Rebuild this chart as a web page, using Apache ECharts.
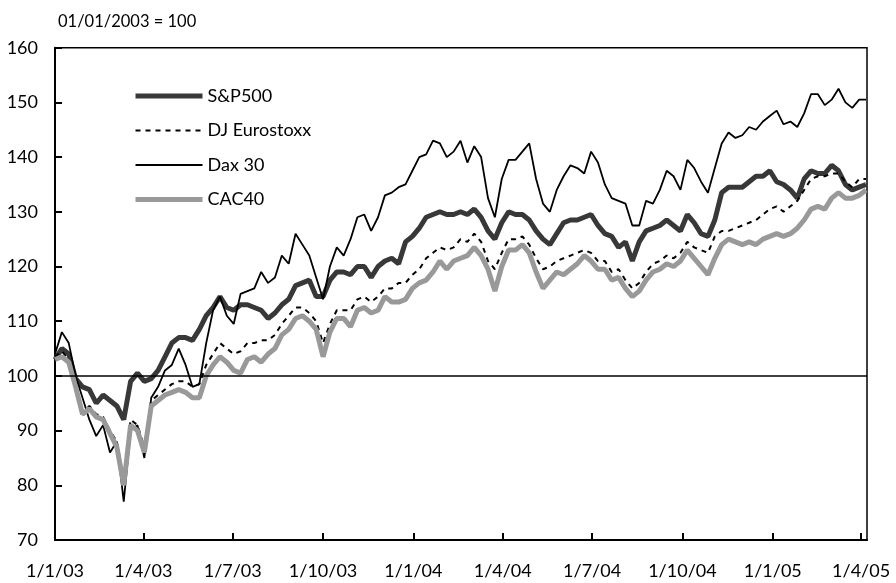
<!DOCTYPE html>
<html>
<head>
<meta charset="utf-8">
<script src="https://cdn.jsdelivr.net/npm/echarts@6/dist/echarts.min.js"></script>
<style>
html,body{margin:0;padding:0;background:#fff;}
#chart{width:896px;height:583px;}
</style>
</head>
<body>
<div id="chart"></div>
<script>
// Weekly samples starting 1 Jan 2003 (index i = week i)
const seriesNames = ['S&P500', 'DJ Eurostoxx', 'Dax 30', 'CAC40'];
const tickDates = ['2003-01-01','2003-04-01','2003-07-01','2003-10-01','2004-01-01','2004-04-01','2004-07-01','2004-10-01','2005-01-01','2005-04-01'];
const tickLabels = ['1/1/03','1/4/03','1/7/03','1/10/03','1/1/04','1/4/04','1/7/04','1/10/04','1/1/05','1/4/05'];
const yTicks = [70, 80, 90, 100, 110, 120, 130, 140, 150, 160];

const sp500 = [103,105,104,99.5,98,97.5,95,96.5,95.5,94.5,92,99,100.5,99,99.5,101,103.5,106,107,107,106.5,108.5,111,112.5,114.5,112.5,112,113,113,112.5,112,110.5,111.5,113,114,116.5,117,117.5,114.5,114.5,117.5,119,119,118.5,120,120,118,120,121,121.5,120.5,124.5,125.5,127,129,129.5,130,129.5,129.5,130,129.5,130.5,129,126.5,125,128,130,129.5,129.5,128.5,126.5,125,124,126,128,128.5,128.5,129,129.5,127.5,126,125.5,123.5,124.5,121,124.5,126.5,127,127.5,128.5,127.5,126.5,129.5,128,126,125.5,128.5,133.5,134.5,134.5,134.5,135.5,136.5,136.5,137.5,135.5,135,134,132.5,136,137.5,137,137,138.5,137.5,135,134,134.5,135];

const eurostoxx = [103.5,104.5,103,98.5,93.5,94.5,93,92.5,90,88,81,92,91,87,95.5,96.5,97.5,98.5,99,99,98,98.5,102,104,106,105,104,104.5,106,106,106.5,106.5,107.5,109.5,111,112.5,112.5,111.5,110,106,109.5,112,112,112,114,114.5,113.5,114.5,116,116,117,117,118.5,119.5,121.5,122.5,123.5,123,123.5,125,124.5,126,124.5,121,119.5,122.5,125,125,125.5,124,121.5,119.5,120,121,121.5,122,122.5,123,122.5,121,121,119,119.5,117.5,116,117,119,120.5,121,122,121.5,122.5,124.5,123.5,123,122.5,125.5,126.5,126.5,127,127.5,128,128.5,129.5,130.5,131,130,131,132,134,136,136.5,136.5,137,137,135.5,134.5,136,136];

const dax30 = [104,108,106,100,96,92,89,91,86,88,77,90,91,85,96,98,101,102,105,102,98,98.5,106,112,114.5,111,109.5,115,115.5,116,119,117,118,122,120.5,126,124,122,118,114,120,123.5,122,125,129,129.5,126.5,129,133,133.5,134.5,135,137.5,140,140.5,143,142.5,140,141,143,139,142,140,132.5,129,136,139.5,139.5,141,142.5,136,131.5,130,134,136.5,138.5,138,137,141,139,135,132.5,132,131.5,127.5,127.5,132,131.5,134,137.5,136.5,134,139.5,138,135.5,133.5,138,142.5,144.5,143.5,144,145.5,145,146.5,147.5,148.5,146,146.5,145.5,148,151.5,151.5,149.5,150.5,152.5,150,149,150.5,150.5];

const cac40 = [103,103.5,102.5,98,93,94,92.5,92,89.5,87,80,91,90,86,94.5,95.5,96.5,97,97.5,97,96,96,100,102,103.5,102.5,101,100.5,103,103.5,102.5,104,105,107.5,108.5,110.5,111,110,108.5,103.5,108,110.5,110.5,109,112,112.5,111.5,112,114.5,113.5,113.5,114,116,117,117.5,119,121,119.5,121,121.5,122,123.5,122,119.5,115.5,120,123,123,124,122.5,119,116,117.5,119,118.5,119.5,120.5,122,121,119.5,119.5,117.5,118,116,114.5,115.5,117.5,119,119.5,120.5,120,121,123,121.5,120,118.5,121.5,124,125,124.5,124,124.5,124,125,125.5,126,125.5,126,127,128.5,130.5,131,130.5,132.5,133.5,132.5,132.5,133,134];

const baseLine = 100;

// x axis measured in days since 1 Jan 2003; samples are weekly
const DAY = 86400000;
function dayNum(s) { const p = s.split('-'); return Math.round((Date.UTC(+p[0], +p[1] - 1, +p[2]) - Date.UTC(2003, 0, 1)) / DAY); }
const days = sp500.map((_, i) => 7 * i);
const tickDays = tickDates.map(dayNum);
const xMax = dayNum('2005-04-07');

const FONT = 'Lato, "Open Sans", sans-serif';

const styles = [
  {color: '#383838', width: 5, type: 'solid'},
  {color: '#000000', width: 2, type: [5, 5]},
  {color: '#000000', width: 1.8, type: 'solid'},
  {color: '#999999', width: 5, type: 'solid'}
];
const seriesData = [sp500, eurostoxx, dax30, cac40];

function pairs(arr) { return arr.map((v, i) => [days[i], v]); }

const series = seriesNames.map((name, k) => {
  const s = {
    name: name, type: 'line', data: pairs(seriesData[k]),
    symbol: 'none', showSymbol: false,
    lineStyle: {color: styles[k].color, width: styles[k].width, type: styles[k].type},
    itemStyle: {color: styles[k].color}
  };
  if (k === 0) {
    s.markLine = {
      silent: true, symbol: ['none', 'none'],
      label: {show: false},
      lineStyle: {color: '#000', width: 1.5, type: 'solid'},
      data: [{yAxis: baseLine}]
    };
  }
  return s;
});

const chart = echarts.init(document.getElementById('chart'), null, {renderer: 'canvas'});
chart.setOption({
  animation: false,
  backgroundColor: '#fff',
  textStyle: {fontFamily: FONT},
  title: {
    text: '01/01/2003 = 100',
    left: 53, top: 8,
    textStyle: {fontSize: 16.5, fontWeight: 'normal', color: '#000', fontFamily: FONT}
  },
  legend: {
    orient: 'vertical',
    left: 128, top: 82,
    itemWidth: 67, itemHeight: 18, itemGap: 16.5,
    data: seriesNames.map((name, k) => ({
      name: name,
      itemStyle: {opacity: 0},
      lineStyle: {color: styles[k].color, width: styles[k].width, type: styles[k].type}
    })),
    itemStyle: {opacity: 0},
    textStyle: {fontSize: 18, color: '#000', fontFamily: FONT},
    selectedMode: false
  },
  grid: {
    left: 55, right: 29, top: 47.7, bottom: 43,
    show: true, borderColor: '#000', borderWidth: 1.5, backgroundColor: 'transparent'
  },
  xAxis: {
    type: 'value',
    min: 0, max: xMax,
    axisLine: {show: true, lineStyle: {color: '#000', width: 2}},
    axisTick: {show: true, inside: true, length: 7, lineStyle: {color: '#000', width: 2}, customValues: tickDays},
    axisLabel: {
      customValues: tickDays,
      fontSize: 18, color: '#000', fontFamily: FONT, margin: 22, hideOverlap: false,
      formatter: function (v) {
        const idx = tickDays.indexOf(Math.round(v));
        return idx >= 0 ? tickLabels[idx] : '';
      }
    },
    splitLine: {show: false}
  },
  yAxis: {
    type: 'value',
    min: yTicks[0], max: yTicks[yTicks.length - 1], interval: 10,
    axisLine: {show: true, lineStyle: {color: '#000', width: 2}},
    axisTick: {show: true, inside: true, length: 7, lineStyle: {color: '#000', width: 2}},
    axisLabel: {fontSize: 18, color: '#000', fontFamily: FONT, margin: 17},
    splitLine: {show: false}
  },
  series: series
});
</script>
</body>
</html>
